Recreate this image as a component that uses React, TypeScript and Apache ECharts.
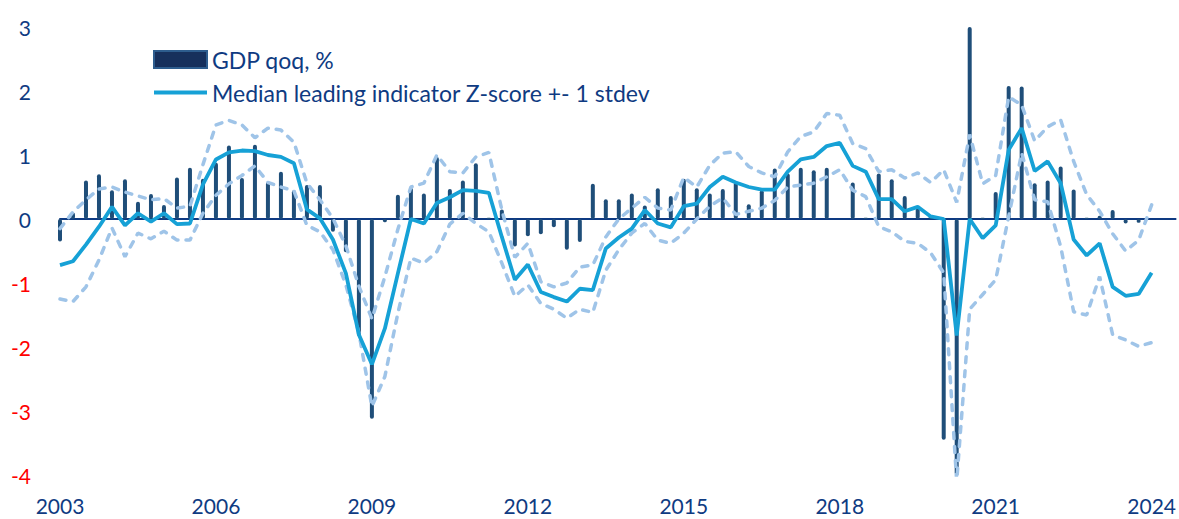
import React, { useEffect, useRef } from "react";
import * as echarts from "echarts";

// Quarterly, 2003 Q1 .. 2024 Q1
const startYear = 2003;
const quarters: string[] = Array.from({ length: 85 }, (_, i) => `${startYear + Math.floor(i / 4)} Q${(i % 4) + 1}`);
const tickLabels = ["2003", "2006", "2009", "2012", "2015", "2018", "2021", "2024"];

const gdp = [
  -0.35, 0.1, 0.6, 0.7, 0.45, 0.62, 0.27, 0.39, 0.22, 0.65, 0.8, 0.63,
  0.88, 1.15, 0.64, 1.16, 0.58, 0.74, 0.45, 0.53, 0.53, -0.2, -0.52, -1.83,
  -3.12, -0.05, 0.38, 0.49, 0.4, 0.97, 0.47, 0.6, 0.87, 0.02, 0.15, -0.43,
  -0.27, -0.24, -0.13, -0.48, -0.36, 0.55, 0.31, 0.31, 0.4, 0.21, 0.48, 0.36,
  0.63, 0.48, 0.4, 0.47, 0.57, 0.23, 0.45, 0.79, 0.71, 0.8, 0.76, 0.8,
  0, 0.57, 0.02, 0.71, 0.62, 0.36, 0.17, 0.05, -3.45, -11.6, 12.4, 0.02,
  0.42, 2.08, 2.07, 0.56, 0.6, 0.82, 0.46, 0.02, 0.05, 0.14, -0.07, -0.06,
  0,
];

const median = [
  -0.72, -0.66, -0.4, -0.12, 0.19, -0.1, 0.09, -0.04, 0.09, -0.08, -0.07, 0.54,
  0.93, 1.04, 1.07, 1.06, 1.0, 0.97, 0.87, 0.15, 0.01, -0.32, -0.85, -1.81,
  -2.27, -1.71, -0.85, 0.0, -0.07, 0.25, 0.34, 0.45, 0.44, 0.41, -0.28, -0.95,
  -0.71, -1.14, -1.22, -1.29, -1.09, -1.11, -0.46, -0.29, -0.15, 0.14, -0.07, -0.13,
  0.2, 0.24, 0.5, 0.66, 0.57, 0.5, 0.46, 0.46, 0.74, 0.93, 0.97, 1.14,
  1.19, 0.83, 0.74, 0.31, 0.31, 0.12, 0.19, 0.04, 0.0, -1.82, 0.0, -0.3,
  -0.1, 1.08, 1.42, 0.75, 0.9, 0.56, -0.32, -0.57, -0.38, -1.06, -1.2, -1.17,
  -0.84,
];

const upper = [
  -0.15, 0.11, 0.3, 0.47, 0.5, 0.42, 0.36, 0.3, 0.32, 0.17, 0.2, 0.85,
  1.47, 1.54, 1.47, 1.27, 1.42, 1.39, 1.2, 0.56, 0.3, 0.01, -0.42, -1.05,
  -1.56, -0.9, -0.16, 0.5, 0.56, 1.0, 0.74, 0.72, 0.97, 1.04, 0.14, -0.6,
  -0.38, -0.98, -1.06, -1.0, -0.75, -0.72, -0.28, 0.0, 0.17, 0.34, 0.17, 0.14,
  0.65, 0.5, 0.84, 1.03, 1.05, 0.82, 0.72, 0.66, 1.05, 1.29, 1.36, 1.65,
  1.62, 1.18, 1.1, 0.74, 0.77, 0.64, 0.72, 0.57, 0.77, 0.26, 1.32, 0.55,
  0.68, 1.91, 1.78, 1.22, 1.44, 1.55, 0.9, 0.38, 0.12, -0.23, -0.5, -0.33,
  0.22,
];

const lower = [
  -1.25, -1.29, -1.06, -0.64, -0.14, -0.59, -0.22, -0.31, -0.19, -0.33, -0.33, 0.09,
  0.37, 0.55, 0.68, 0.83, 0.57, 0.5, 0.44, -0.1, -0.2, -0.48, -1.03, -1.78,
  -2.93, -2.46, -1.47, -0.61, -0.69, -0.51, -0.08, 0.09, -0.07, -0.2, -0.69, -1.21,
  -1.03, -1.32, -1.41, -1.55, -1.41, -1.46, -0.8, -0.48, -0.22, -0.07, -0.33, -0.38,
  -0.22, 0.0, 0.2, 0.33, 0.07, 0.12, 0.17, 0.29, 0.5, 0.53, 0.56, 0.66,
  0.77, 0.45, 0.35, -0.12, -0.2, -0.35, -0.38, -0.53, -0.84, -4.1, -1.41, -1.18,
  -0.95, 0.04, 1.03, 0.3, 0.27, -0.43, -1.45, -1.5, -0.9, -1.81, -1.89, -1.99,
  -1.93,
];

const GDP_NAME = "GDP qoq, %";
const MED_NAME = "Median leading indicator Z-score +- 1 stdev";

const NAVY_TEXT = "#0f3b82";
const BAR = "#1f4e79";
const LINE = "#16a1d6";
const DASH = "#9fc4e8";
const FONT = "Lato";

const pts = (arr: number[]) => arr.map((v, i) => [quarters.indexOf(quarters[i]), v]);

export default function App() {
  const ref = useRef<HTMLDivElement>(null);
  useEffect(() => {
    if (!ref.current) return;
    const chart = echarts.init(ref.current, undefined, { renderer: "svg" });
    const dashStyle = { color: DASH, width: 3.5, type: [6, 8] as any, cap: "round" as any };
    chart.setOption({
      animation: false,
      backgroundColor: "#ffffff",
      textStyle: { fontFamily: FONT },
      grid: { left: 60, right: 0, top: 27, bottom: 44 },
      legend: {
        orient: "vertical",
        left: 147,
        top: 43,
        itemWidth: 53,
        itemHeight: 17,
        itemGap: 10,
        itemTextGap: 5,
        textStyle: { color: NAVY_TEXT, fontSize: 23, fontFamily: FONT },
        data: [
          { name: GDP_NAME, icon: "rect", itemStyle: { color: "#17305c", borderColor: "#2e5d8e", borderWidth: 2 } },
          { name: MED_NAME, itemStyle: { opacity: 0 }, lineStyle: { width: 4, color: LINE } },
        ],
      },
      xAxis: {
        type: "value",
        min: 0,
        max: 85.84,
        interval: 12,
        splitLine: { show: false },
        axisTick: { show: false },
        axisLine: { onZero: true, lineStyle: { color: "#0e3a82", width: 2 } },
        axisLabel: {
          showMaxLabel: false,
          margin: 20,
          fontSize: 21,
          color: NAVY_TEXT,
          fontFamily: FONT,
          formatter: (v: number) => tickLabels[Math.round(v / 12)] ?? "",
        },
      },
      yAxis: {
        type: "value",
        min: -4,
        max: 3,
        interval: 1,
        splitLine: { show: false },
        axisTick: { show: false },
        axisLine: { show: false },
        axisLabel: {
          margin: 29,
          fontSize: 21,
          fontFamily: FONT,
          color: (v: any) => (Number(v) < 0 ? "#ff0000" : NAVY_TEXT),
        },
      },
      series: [
        {
          name: GDP_NAME,
          type: "bar",
          data: pts(gdp),
          barWidth: 4,
          clip: true,
          itemStyle: { color: BAR, borderRadius: 2 },
        },
        {
          name: "upper",
          type: "line",
          data: pts(upper),
          symbol: "none",
          lineStyle: dashStyle,
          itemStyle: { color: DASH },
          clip: true,
        },
        {
          name: "lower",
          type: "line",
          data: pts(lower),
          symbol: "none",
          lineStyle: dashStyle,
          itemStyle: { color: DASH },
          clip: true,
        },
        {
          name: MED_NAME,
          type: "line",
          data: pts(median),
          symbol: "none",
          lineStyle: { color: LINE, width: 3.8 },
          itemStyle: { color: LINE },
          clip: true,
        },
      ],
    });
    return () => chart.dispose();
  }, []);
  return (
    <div
      ref={ref}
      style={{ position: "absolute", left: 0, top: 0, width: 1179, height: 519, background: "#fff" }}
    />
  );
}
